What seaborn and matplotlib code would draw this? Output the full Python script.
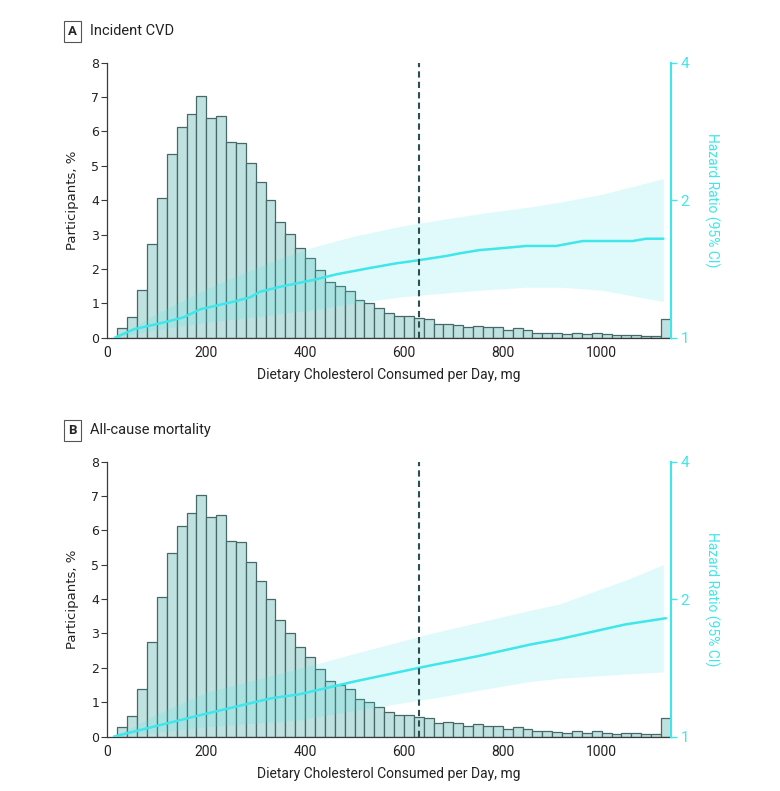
import numpy as np
import pandas as pd
import matplotlib
matplotlib.use("Agg")
import matplotlib.pyplot as plt
import seaborn as sns

# histogram of dietary cholesterol, 20 mg bins from 20 to 1140 (percent of participants)
bin_edges = list(range(20, 1141, 20))
pct = [0.27, 0.59, 1.39, 2.74, 4.07, 5.33, 6.14, 6.52, 7.03, 6.38,
       6.45, 5.69, 5.65, 5.07, 4.53, 4.00, 3.38, 3.01, 2.62, 2.31,
       1.97, 1.61, 1.50, 1.37, 1.10, 1.00, 0.87, 0.71, 0.63, 0.63,
       0.57, 0.53, 0.39, 0.41, 0.38, 0.32, 0.35, 0.30, 0.32, 0.22,
       0.27, 0.21, 0.15, 0.15, 0.13, 0.10, 0.15, 0.10, 0.15, 0.11,
       0.07, 0.09, 0.09, 0.06, 0.06, 0.55]
bin_mid = [e + 10 for e in bin_edges[:-1]]

# hazard ratio curves (A: incident CVD)
cvd_x = [15, 53, 120, 154, 188, 255, 289, 309, 350, 390, 417, 464, 531, 585, 632, 686, 713, 754, 780, 848, 908, 962, 1063, 1090, 1125]
cvd_hr = [1.0, 1.043, 1.084, 1.108, 1.154, 1.199, 1.226, 1.261, 1.293, 1.32, 1.338, 1.377, 1.421, 1.455, 1.479, 1.51, 1.53, 1.556, 1.564, 1.588, 1.588, 1.628, 1.628, 1.647, 1.647]
cvd_band_x = [15, 100, 200, 300, 350, 417, 500, 600, 713, 754, 850, 915, 1000, 1125]
cvd_hi = [1.0, 1.13, 1.28, 1.42, 1.49, 1.58, 1.67, 1.76, 1.84, 1.87, 1.93, 1.98, 2.06, 2.23]
cvd_lo = [1.0, 1.04, 1.08, 1.11, 1.13, 1.15, 1.19, 1.23, 1.26, 1.27, 1.29, 1.29, 1.27, 1.20]

# hazard ratio curves (B: all-cause mortality)
mort_x = [13, 100, 188, 323, 336, 388, 500, 652, 750, 855, 913, 1048, 1130]
mort_hr = [1.0, 1.055, 1.114, 1.207, 1.215, 1.237, 1.32, 1.43, 1.50, 1.59, 1.633, 1.76, 1.816]
mort_band_x = [13, 100, 200, 388, 500, 652, 855, 913, 1048, 1125]
mort_hi = [1.0, 1.12, 1.25, 1.41, 1.52, 1.68, 1.89, 1.95, 2.20, 2.38]
mort_lo = [1.0, 1.02, 1.05, 1.087, 1.14, 1.21, 1.32, 1.34, 1.37, 1.385]

cutoff = 630
xticks = list(range(0, 1121, 40))

panels = [
    ("A", "Incident CVD", cvd_x, cvd_hr, cvd_band_x, cvd_hi, cvd_lo, [0.1378, 0.5731, 0.7222, 0.3476]),
    ("B", "All-cause mortality", mort_x, mort_hr, mort_band_x, mort_hi, mort_lo, [0.1378, 0.0689, 0.7222, 0.3474]),
]

sns.set_style("white")
cyan = "#3fe6ea"
dark = "#3a3a3a"
narrow = ["Roboto", "DejaVu Sans"]

fig = plt.figure(figsize=(7.8, 7.91), dpi=100)
hist_df = pd.DataFrame({"mg": bin_mid, "pct": pct})

for letter, title, lx, ly, bx, bhi, blo, rect in panels:
    ax = fig.add_axes(rect)
    sns.histplot(data=hist_df, x="mg", weights="pct", bins=bin_edges, ax=ax,
                 color="#bfe2e1", edgecolor="#476868", linewidth=0.9, alpha=1)
    ax.set_xlim(0, 1140)
    ax.set_ylim(0, 8)
    ax.set_yticks(range(0, 9))
    ax.set_xticks(xticks)
    ax.set_xticklabels([str(t) if t % 200 == 0 else "" for t in xticks], family=narrow, fontsize=10)
    ax.set_yticklabels([str(v) for v in range(0, 9)], fontsize=9)
    ax.tick_params(axis="both", direction="out", length=4, width=0.8, color=dark, labelcolor="#222", pad=2)
    ax.set_ylabel("Participants, %", fontsize=9.5, color="#222", labelpad=9)
    ax.set_xlabel("Dietary Cholesterol Consumed per Day, mg", family=narrow, fontsize=10, color="#222", labelpad=6)
    for s in ["top", "right"]:
        ax.spines[s].set_visible(False)
    for s in ["left", "bottom"]:
        ax.spines[s].set_color(dark)
        ax.spines[s].set_linewidth(0.9)

    ax2 = ax.twinx()
    ax2.set_yscale("log", base=2)
    ax2.fill_between(bx, blo, bhi, color=cyan, alpha=0.16, linewidth=0)
    sns.lineplot(x=lx, y=ly, ax=ax2, color=cyan, linewidth=1.8)
    ax2.axvline(cutoff, color="#2c4f4f", linestyle=(0, (3, 2)), linewidth=1.5)
    ax2.set_ylim(1, 4)
    ax2.set_xlim(0, 1140)
    ax2.set_yticks([1, 2, 4])
    ax2.set_yticklabels(["1", "2", "4"], family=narrow, fontsize=11, color=cyan)
    ax2.yaxis.set_minor_locator(matplotlib.ticker.NullLocator())
    ax2.tick_params(axis="y", direction="out", length=4, width=1, color=cyan, pad=3)
    ax2.set_ylabel("Hazard Ratio (95% CI)", family=narrow, fontsize=10, color=cyan,
                   rotation=270, labelpad=22)
    ax2.spines["right"].set_color(cyan)
    ax2.spines["right"].set_linewidth(1.5)
    for s in ["top", "left", "bottom"]:
        ax2.spines[s].set_visible(False)

    top = rect[1] + rect[3]
    fig.text(0.093, top + 0.0395, letter, fontsize=9.5, fontweight="bold", ha="center", va="center",
             family=narrow, bbox=dict(boxstyle="square,pad=0.3", fc="white", ec="#555", lw=0.8))
    fig.text(0.116, top + 0.0395, title, fontsize=10.5, ha="left", va="center", family=narrow, color="#222")

fig.savefig("out.png", dpi=100)
